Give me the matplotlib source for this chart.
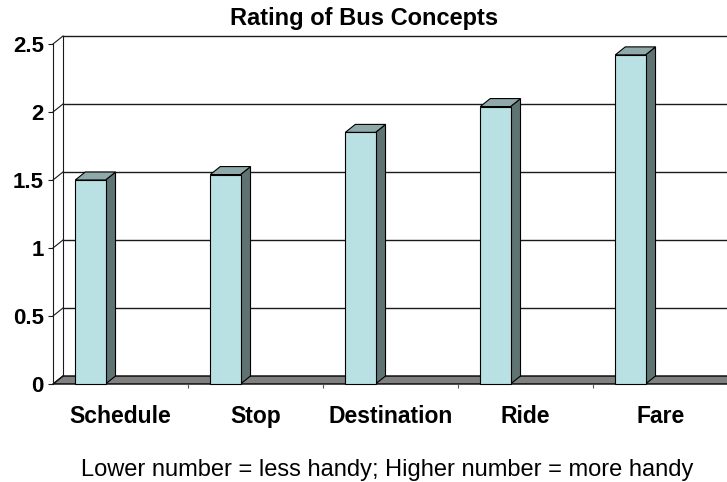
import matplotlib
matplotlib.use("Agg")
import matplotlib.pyplot as plt
from matplotlib.patches import Polygon, Rectangle

categories = ["Schedule", "Stop", "Destination", "Ride", "Fare"]
values = [1.50, 1.54, 1.85, 2.04, 2.42]
yticks = [0, 0.5, 1, 1.5, 2, 2.5]
ytick_labels = ["0", "0.5", "1", "1.5", "2", "2.5"]
title = "Rating of Bus Concepts"
caption = "Lower number = less handy; Higher number = more handy"

plt.rcParams['font.family'] = ['Liberation Sans', 'DejaVu Sans']

W, H = 727, 482
fig = plt.figure(figsize=(W / 100, H / 100), dpi=100)
fig.patch.set_facecolor("white")
ax = fig.add_axes([53 / W, (H - 384) / H, 675 / W, 340 / H])
n = len(categories)
ax.set_xlim(0, n)
ax.set_ylim(0, 2.5)
ax.set_facecolor("none")

# depth offsets (data units)
DX = 10 / 135
DY = 8 / 136

FRONT = "#b9e0e3"
TOP = "#8fa9aa"
SIDE = "#5f7373"
FLOOR = "#808080"
EDGE = "#000000"

# floor
ax.add_patch(Polygon([(0, 0), (n + 0.3, 0), (n + 0.3 + DX, DY), (DX, DY)],
                     closed=True, facecolor=FLOOR, edgecolor=EDGE, lw=1.0,
                     clip_on=False, zorder=1))

# back wall gridlines and left wall
for v in yticks:
    if v > 0:
        ax.plot([DX, n + 0.3], [v + DY, v + DY], color="#1a1a1a", lw=1.0,
                clip_on=False, zorder=2)
    ax.plot([0, DX], [v, v + DY], color="#1a1a1a", lw=0.8,
            clip_on=False, zorder=2)
ax.plot([DX, DX], [DY, 2.5 + DY], color="#1a1a1a", lw=0.8, clip_on=False, zorder=2)

# bars
bw = 0.224
off = 0.165
for i, v in enumerate(values):
    x0 = i + off
    ax.add_patch(Polygon([(x0 + bw, 0), (x0 + bw + DX, DY), (x0 + bw + DX, v + DY), (x0 + bw, v)],
                         closed=True, facecolor=SIDE, edgecolor=EDGE, lw=0.8,
                         clip_on=False, zorder=3))
    ax.add_patch(Polygon([(x0, v), (x0 + bw, v), (x0 + bw + DX, v + DY), (x0 + DX, v + DY)],
                         closed=True, facecolor=TOP, edgecolor=EDGE, lw=0.8,
                         clip_on=False, zorder=3))
    ax.add_patch(Rectangle((x0, 0), bw, v, facecolor=FRONT, edgecolor=EDGE,
                           lw=0.8, clip_on=False, zorder=4))

for s in ["top", "right", "bottom"]:
    ax.spines[s].set_visible(False)
ax.spines["left"].set_color("#1a1a1a")
ax.spines["left"].set_linewidth(0.8)
ax.spines["left"].set_zorder(5)

ax.set_yticks(yticks)
ax.set_yticklabels(ytick_labels, fontsize=16, fontweight="bold")
ax.tick_params(axis="y", direction="out", length=3.6, width=0.8, pad=3, color="#1a1a1a")

ax.set_xticks(range(1, n))
ax.set_xticklabels([])
ax.tick_params(axis="x", which="major", direction="out", length=3, width=0.8, color="#555555")
ax.set_xticks([i + 0.5 for i in range(n)], minor=True)
ax.set_xticklabels(categories, minor=True, fontsize=16.5, fontweight="bold")
ax.tick_params(axis="x", which="minor", length=0, pad=15)

fig.text(364 / W, 1 - 18 / H, title, ha="center", va="center",
         fontsize=17, fontweight="bold")
fig.text(387 / W, 1 - 470 / H, caption, ha="center", va="center", fontsize=17)

fig.savefig("out.png", dpi=100)
